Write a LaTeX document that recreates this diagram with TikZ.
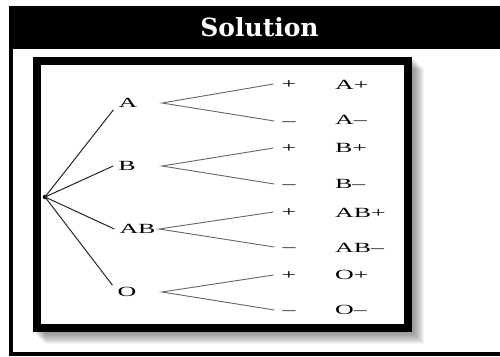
\documentclass[tikz,border=0pt]{standalone}
\usepackage{fontspec}
\setmainfont{Liberation Serif}
\newfontfamily\titlefont{DejaVu Serif}
\newcommand{\stretchtxt}[1]{\scalebox{1.85}[1]{#1}}
\begin{document}
\begin{tikzpicture}[x=1pt,y=-1pt,
  lbl/.style={font=\fontsize{14}{14}\selectfont, text height=9.2pt, text depth=0pt, inner ysep=2pt, inner xsep=5pt},
  res/.style={font=\fontsize{14}{14}\selectfont, text height=9.2pt, text depth=0pt, inner sep=0pt, anchor=west},
  sgn/.style={font=\fontsize{14}{14}\selectfont, text height=9.2pt, text depth=0pt, inner ysep=0pt, inner xsep=8pt},
  stem/.style={draw=black!85, line width=1pt},
  branch/.style={draw=black!60, line width=0.9pt},
  band/.style={fill=black},
  frame/.style={draw=black, line width=8pt}]
\useasboundingbox (0,0) rectangle (500,356);
% outer frame
\fill[band] (9,6) rectangle (500,49);
\fill[band] (9,6) rectangle (12.5,356);
\fill[band] (9,352) rectangle (500,356);
\node[font=\titlefont\bfseries\fontsize{25}{25}\selectfont, text=white, inner sep=0pt] (t) at (259.5,27) {Solution};
% shadow of the picture frame
\foreach \k in {2,...,12} {
  \fill[black, opacity=0.045] (33+\k,57+\k) rectangle (411.5+\k,331.5+\k);
}
\fill[white] (33,57) rectangle (411.5,331.5);
\draw[frame] (37,61) rectangle (407.5,327.5);
% tree
\node[circle, fill=black, inner sep=1.6pt] (r) at (45,197) {};
\node[lbl] (A) at (128,103) {\stretchtxt{A}};
\node[lbl] (B) at (127,166) {\stretchtxt{B}};
\node[lbl] (AB) at (137.5,229) {\stretchtxt{AB}};
\node[lbl] (O) at (127,292) {\stretchtxt{O}};
\draw[stem] (r.center) -- (A.south west);
\draw[stem] (r.center) -- (B.west);
\draw[stem] (r.center) -- (AB.west);
\draw[stem] (r.center) -- (O.north west);
\coordinate (fA) at (162,103);
\coordinate (fB) at (162,166);
\coordinate (fAB) at (159,229);
\coordinate (fO) at (162,292);
% signs
\node[sgn] (pA) at (289,84) {\stretchtxt{+}};
\node[sgn] (mA) at (289,121) {\stretchtxt{–}};
\node[sgn] (pB) at (289,148) {\stretchtxt{+}};
\node[sgn] (mB) at (289,184) {\stretchtxt{–}};
\node[sgn] (pAB) at (289,212) {\stretchtxt{+}};
\node[sgn] (mAB) at (289,247) {\stretchtxt{–}};
\node[sgn] (pO) at (289,275) {\stretchtxt{+}};
\node[sgn] (mO) at (289,310) {\stretchtxt{–}};
\draw[branch] (pA.west) -- (fA) -- (mA.west);
\draw[branch] (pB.west) -- (fB) -- (mB.west);
\draw[branch] (pAB.west) -- (fAB) -- (mAB.west);
\draw[branch] (pO.west) -- (fO) -- (mO.west);
% results
\node[res] (rAp) at (335,85) {\stretchtxt{A+}};
\node[res] (rAm) at (335,120) {\stretchtxt{A–}};
\node[res] (rBp) at (335,148) {\stretchtxt{B+}};
\node[res] (rBm) at (335,184) {\stretchtxt{B–}};
\node[res] (rABp) at (335,213) {\stretchtxt{AB+}};
\node[res] (rABm) at (335,248) {\stretchtxt{AB–}};
\node[res] (rOp) at (335,275) {\stretchtxt{O+}};
\node[res] (rOm) at (335,310) {\stretchtxt{O–}};
\end{tikzpicture}
\end{document}
